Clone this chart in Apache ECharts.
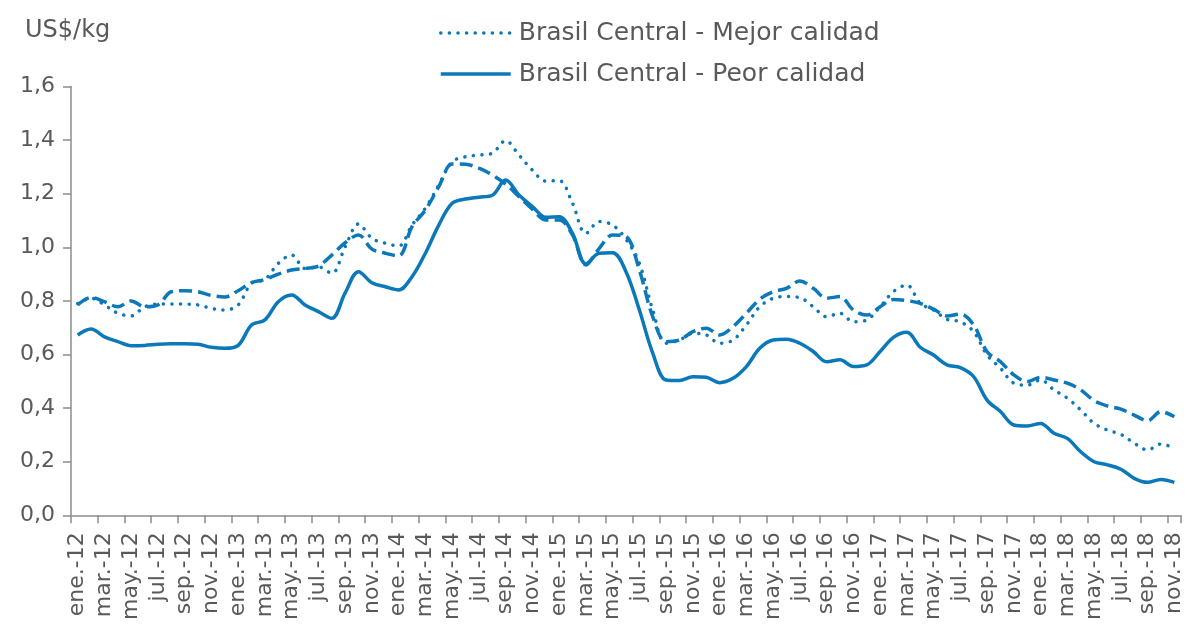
<!DOCTYPE html>
<html>
<head>
<meta charset="utf-8">
<script src="https://cdn.jsdelivr.net/npm/echarts@6/dist/echarts.min.js"></script>
<style>
html,body{margin:0;padding:0;background:#fff;}
#c{width:1188px;height:633px;}
</style>
</head>
<body>
<div id="c"></div>
<script>
// Month labels ene.-12 ... nov.-18
var monthNames = ['ene.','feb.','mar.','abr.','may.','jun.','jul.','ago.','sep.','oct.','nov.','dic.'];
var years = ['12','13','14','15','16','17','18'];
var categories = [];
years.forEach(function(y){ monthNames.forEach(function(m){ categories.push(m + '-' + y); }); });
categories = categories.slice(0, 83);

var yTicks = [0, 0.2, 0.4, 0.6, 0.8, 1.0, 1.2, 1.4, 1.6];

var mejorCalidad = [
  0.79,0.81,0.785,0.754,0.744,0.778,0.788,0.788,0.788,0.785,0.772,0.766,
  0.785,0.866,0.880,0.940,0.971,0.921,0.927,0.903,1.002,1.087,1.034,1.015,
  1.005,1.083,1.146,1.232,1.319,1.338,1.344,1.351,1.398,1.344,1.288,1.247,
  1.249,1.164,1.052,1.096,1.083,1.030,0.940,0.766,0.642,0.654,0.679,0.673,
  0.642,0.654,0.710,0.778,0.810,0.816,0.812,0.778,0.741,0.754,0.722,0.729,
  0.778,0.835,0.859,0.791,0.766,0.731,0.722,0.685,0.598,0.549,0.493,0.486,
  0.505,0.468,0.437,0.393,0.343,0.318,0.302,0.269,0.244,0.266,0.250
];

var peorCalidad = [
  0.673,0.695,0.666,0.648,0.633,0.634,0.638,0.640,0.640,0.638,0.627,0.623,
  0.634,0.710,0.729,0.797,0.822,0.785,0.760,0.735,0.830,0.909,0.868,0.853,
  0.841,0.890,0.978,1.083,1.164,1.180,1.187,1.194,1.251,1.195,1.152,1.112,
  1.114,1.052,0.938,0.978,0.980,0.909,0.766,0.605,0.505,0.503,0.517,0.515,
  0.495,0.511,0.555,0.623,0.654,0.657,0.642,0.611,0.573,0.580,0.555,0.561,
  0.611,0.664,0.683,0.627,0.598,0.561,0.551,0.517,0.430,0.387,0.337,0.333,
  0.343,0.306,0.287,0.237,0.200,0.188,0.172,0.138,0.123,0.134,0.123
];

var promedio = [
  0.785,0.813,0.797,0.778,0.800,0.778,0.785,0.834,0.838,0.834,0.820,0.815,
  0.838,0.868,0.880,0.900,0.915,0.921,0.930,0.971,1.017,1.046,0.993,0.978,
  0.968,1.077,1.139,1.226,1.311,1.310,1.295,1.270,1.236,1.189,1.142,1.102,
  1.102,1.046,0.934,0.996,1.046,1.040,0.915,0.741,0.648,0.654,0.685,0.698,
  0.673,0.704,0.754,0.806,0.834,0.847,0.874,0.847,0.810,0.816,0.766,0.747,
  0.778,0.805,0.801,0.791,0.769,0.744,0.751,0.710,0.610,0.573,0.524,0.499,
  0.515,0.505,0.493,0.468,0.428,0.408,0.396,0.374,0.353,0.387,0.368
];

var FONT = '"DejaVu Sans", sans-serif';
var TXT = '#595959';
var BLUE = '#0a78b9';

var chart = echarts.init(document.getElementById('c'), null, {renderer:'canvas'});
chart.setOption({
  animation: false,
  backgroundColor: '#ffffff',
  textStyle: {fontFamily: FONT, color: TXT},
  graphic: [{
    type: 'text', left: 25, top: 19,
    style: {text: 'US$/kg', fontFamily: FONT, fontSize: 24, fill: TXT}
  }],
  legend: {
    orient: 'vertical',
    left: 434, top: 14,
    itemWidth: 70, itemHeight: 14, itemGap: 13,
    itemStyle: {opacity: 0},
    lineStyle: {width: 3.5},
    data: ['Brasil Central - Mejor calidad', 'Brasil Central - Peor calidad'],
    textStyle: {fontFamily: FONT, fontSize: 25, color: TXT, lineHeight: 28, padding: [0,0,0,3]},
    selectedMode: false
  },
  grid: {left: 71, right: 7, top: 86.5, bottom: 117.7, containLabel: false},
  xAxis: {
    type: 'category',
    data: categories,
    boundaryGap: true,
    axisLine: {lineStyle: {color: '#8c8c8c', width: 1.5}},
    axisTick: {show: true, interval: 1, length: 8, lineStyle: {color: '#8c8c8c', width: 1.5}},
    axisLabel: {interval: 1, rotate: 90, margin: 17, fontFamily: FONT, fontSize: 22, color: TXT}
  },
  yAxis: {
    type: 'value',
    min: yTicks[0], max: yTicks[yTicks.length-1], interval: 0.2,
    splitLine: {show: false},
    axisLine: {show: true, lineStyle: {color: '#8c8c8c', width: 1.5}},
    axisTick: {show: true, length: 8, lineStyle: {color: '#8c8c8c', width: 1.5}},
    axisLabel: {margin: 16, fontFamily: FONT, fontSize: 22, color: TXT,
      formatter: function(v){ return v.toFixed(1).replace('.', ','); }}
  },
  series: [
    {
      name: 'Brasil Central - Mejor calidad', type: 'line', data: mejorCalidad,
      smooth: 0.35, symbol: 'none', showSymbol: false,
      lineStyle: {color: BLUE, width: 3.5, type: [0.1, 8.5], cap: 'round'},
      itemStyle: {color: BLUE}
    },
    {
      name: 'Brasil Central - Peor calidad', type: 'line', data: peorCalidad,
      smooth: 0.35, symbol: 'none', showSymbol: false,
      lineStyle: {color: BLUE, width: 3.5, type: 'solid'},
      itemStyle: {color: BLUE}
    },
    {
      name: 'Brasil Central', type: 'line', data: promedio,
      smooth: 0.35, symbol: 'none', showSymbol: false,
      lineStyle: {color: BLUE, width: 3.5, type: [13, 6]},
      itemStyle: {color: BLUE}
    }
  ]
});
</script>
</body>
</html>
